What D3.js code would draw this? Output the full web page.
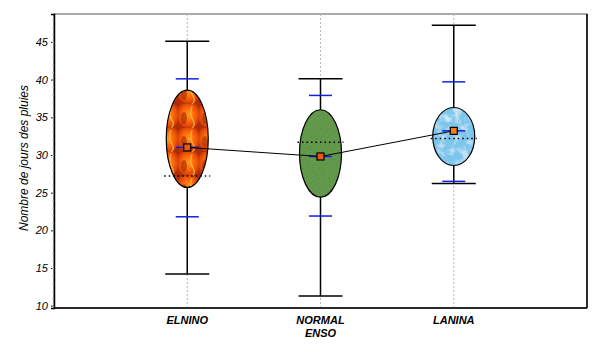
<!DOCTYPE html>
<html>
<head>
<meta charset="utf-8">
<script src="https://cdn.jsdelivr.net/npm/d3@7"></script>
<style>
  body { margin: 0; background: #fff; }
  svg text { font-family: "Liberation Sans", Arial, sans-serif; }
</style>
</head>
<body>
<svg id="chart" width="605" height="354"></svg>
<script>
// Données
const categories = ["ELNINO", "NORMAL|ENSO", "LANINA"];
const maxVals    = [45.1, 40.1, 47.2];
const minVals    = [14.2, 11.3, 26.2];
const blueHaut   = [40.1, 37.9, 39.7];
const blueBas    = [21.8, 21.9, 26.5];
const ellHaut    = [38.6, 36.0, 36.3];
const ellBas     = [25.7, 24.4, 28.6];
const moyennes   = [31.0, 29.8, 33.2];
const medianes   = [27.2, 31.7, 32.2];
const yTicks     = [10, 15, 20, 25, 30, 35, 40, 45];

const data = categories.map((c, i) => ({
  cat: c, pos: i + 1,
  max: maxVals[i], min: minVals[i],
  bh: blueHaut[i], bb: blueBas[i],
  eh: ellHaut[i], eb: ellBas[i],
  moy: moyennes[i], med: medianes[i]
}));

const svg = d3.select("#chart"),
      margin = {top: 14, right: 18, bottom: 46, left: 54},
      width = +svg.attr("width") - margin.left - margin.right,
      height = +svg.attr("height") - margin.top - margin.bottom;

// Textures
const defs = svg.append("defs");

// feu (ELNINO)
const fire = defs.append("pattern").attr("id", "fire")
  .attr("patternUnits", "userSpaceOnUse").attr("width", 21).attr("height", 24)
  .attr("x", 166).attr("y", 90);
const fg = defs.append("radialGradient").attr("id", "fireG")
  .attr("cx", "50%").attr("cy", "45%").attr("r", "60%");
fg.append("stop").attr("offset", "0%").attr("stop-color", "#ff9a18");
fg.append("stop").attr("offset", "45%").attr("stop-color", "#ff6a0c");
fg.append("stop").attr("offset", "80%").attr("stop-color", "#e04808");
fg.append("stop").attr("offset", "100%").attr("stop-color", "#b02c04");
fire.append("rect").attr("width", 21).attr("height", 24).attr("fill", "url(#fireG)");
fire.append("ellipse").attr("cx", 6).attr("cy", 14).attr("rx", 3).attr("ry", 6)
  .attr("fill", "#a02a04").attr("opacity", 0.6);
fire.append("path").attr("d", "M14,2 Q11,10 15,16 Q18,21 14,24")
  .attr("fill", "none").attr("stroke", "#ffc040").attr("stroke-width", 1.5).attr("opacity", 0.7);

// herbe (NORMAL)
const grass = defs.append("filter").attr("id", "grass").attr("x", 0).attr("y", 0).attr("width", 1).attr("height", 1);
grass.append("feTurbulence").attr("type", "fractalNoise").attr("baseFrequency", 0.9).attr("numOctaves", 2).attr("result", "n");
grass.append("feColorMatrix").attr("in", "n").attr("type", "matrix")
  .attr("values", "0 0 0 0 0.22  0 0 0 0 0.45  0 0 0 0 0.15  0 0 0 0.6 0").attr("result", "c");
grass.append("feComposite").attr("in", "c").attr("in2", "SourceGraphic").attr("operator", "atop");

// ciel (LANINA)
const sky = defs.append("filter").attr("id", "sky").attr("x", 0).attr("y", 0).attr("width", 1).attr("height", 1);
sky.append("feTurbulence").attr("type", "fractalNoise").attr("baseFrequency", 0.12).attr("numOctaves", 3).attr("result", "n");
sky.append("feColorMatrix").attr("in", "n").attr("type", "matrix")
  .attr("values", "0 0 0 0 1  0 0 0 0 1  0 0 0 0 1  0 0 0 1.6 -0.75").attr("result", "c");
sky.append("feComposite").attr("in", "c").attr("in2", "SourceGraphic").attr("operator", "atop");

const fills = ["url(#fire)", "#4f8a35", "#7cc6ec"];
const filters = [null, "url(#grass)", "url(#sky)"];

const g = svg.append("g")
  .attr("transform", `translate(${margin.left},${margin.top})`);

const x = d3.scaleLinear().domain([0, 4]).range([0, width]);
const y = d3.scaleLinear().domain([9.7, 48.7]).range([height, 0]);

// Cadre
g.append("rect").attr("width", width).attr("height", height)
  .attr("fill", "none").attr("stroke", "#555").attr("stroke-width", 1);
g.append("line").attr("x1", width).attr("x2", width).attr("y1", 0).attr("y2", height)
  .attr("stroke", "#000").attr("stroke-width", 1.5);

// Grille verticale pointillée
g.selectAll("line.grid").data(data).enter().append("line")
  .attr("class", "grid")
  .attr("x1", d => x(d.pos)).attr("x2", d => x(d.pos))
  .attr("y1", 0).attr("y2", height)
  .attr("stroke", "#bbb").attr("stroke-dasharray", "2,2");

// Axe Y
const yAxis = g.append("g")
  .call(d3.axisLeft(y).tickValues(yTicks).tickSize(3).tickPadding(3));
yAxis.select(".domain").attr("stroke", "#000").attr("stroke-width", 1.5);
yAxis.selectAll("text").style("font-size", "11px").style("font-style", "italic").attr("fill", "#000");
g.append("g")
  .call(d3.axisLeft(y).tickValues(d3.range(10, 49, 1)).tickSize(2).tickFormat(""))
  .call(a => a.select(".domain").remove())
  .selectAll("line").attr("stroke", "#bbb");

// Axe X
g.append("line").attr("x1", 0).attr("x2", width).attr("y1", height).attr("y2", height)
  .attr("stroke", "#000").attr("stroke-width", 1.5);
const xl = g.selectAll("text.cat").data(data).enter().append("text")
  .attr("class", "cat")
  .attr("x", d => x(d.pos)).attr("y", height + 16)
  .attr("text-anchor", "middle")
  .style("font-size", "11px").style("font-weight", "bold").style("font-style", "italic");
xl.each(function(d) {
  d.cat.split("|").forEach((t, i) => {
    d3.select(this).append("tspan").attr("x", x(d.pos)).attr("dy", i ? 13 : 0).text(t);
  });
});

// Titre axe Y
svg.append("text")
  .attr("transform", `translate(28,${margin.top + height / 2 - 3}) rotate(-90)`)
  .attr("text-anchor", "middle")
  .style("font-size", "12px").style("font-style", "italic")
  .text("Nombre de jours des pluies");

const capW = 22, blueW = 11.5, ellW = 21;

// Moustaches
g.selectAll("line.wh").data(data).enter().append("line")
  .attr("x1", d => x(d.pos)).attr("x2", d => x(d.pos))
  .attr("y1", d => y(d.max)).attr("y2", d => y(d.min))
  .attr("stroke", "#000").attr("stroke-width", 1.5);
["max", "min"].forEach(k => {
  g.selectAll("line.cap" + k).data(data).enter().append("line")
    .attr("x1", d => x(d.pos) - capW).attr("x2", d => x(d.pos) + capW)
    .attr("y1", d => y(d[k])).attr("y2", d => y(d[k]))
    .attr("stroke", "#000").attr("stroke-width", 1.5);
});
["bh", "bb"].forEach(k => {
  g.selectAll("line.blue" + k).data(data).enter().append("line")
    .attr("x1", d => x(d.pos) - blueW).attr("x2", d => x(d.pos) + blueW)
    .attr("y1", d => y(d[k])).attr("y2", d => y(d[k]))
    .attr("stroke", "#1020e0").attr("stroke-width", 1.5);
});

// Ellipses
g.selectAll("ellipse.ell").data(data).enter().append("ellipse")
  .attr("cx", d => x(d.pos))
  .attr("cy", d => y((d.eh + d.eb) / 2))
  .attr("rx", ellW)
  .attr("ry", d => (y(d.eb) - y(d.eh)) / 2)
  .attr("fill", (d, i) => fills[i])
  .attr("filter", (d, i) => filters[i])
  .attr("stroke", "none");
g.selectAll("ellipse.ello").data(data).enter().append("ellipse")
  .attr("cx", d => x(d.pos))
  .attr("cy", d => y((d.eh + d.eb) / 2))
  .attr("rx", ellW)
  .attr("ry", d => (y(d.eb) - y(d.eh)) / 2)
  .attr("fill", "none").attr("stroke", "#000").attr("stroke-width", 1.2);

// Ligne bleue à la moyenne
g.selectAll("line.bmoy").data(data).enter().append("line")
  .attr("x1", d => x(d.pos) - blueW).attr("x2", d => x(d.pos) + blueW)
  .attr("y1", d => y(d.moy)).attr("y2", d => y(d.moy))
  .attr("stroke", "#1020e0").attr("stroke-width", 1.5);

// Médiane pointillée
g.selectAll("line.med").data(data).enter().append("line")
  .attr("x1", d => x(d.pos) - ellW - 2).attr("x2", d => x(d.pos) + ellW + 2)
  .attr("y1", d => y(d.med)).attr("y2", d => y(d.med))
  .attr("stroke", "#000").attr("stroke-width", 1.5).attr("stroke-dasharray", "1.5,3");

// Ligne des moyennes
g.append("path").datum(data)
  .attr("fill", "none").attr("stroke", "#000").attr("stroke-width", 1)
  .attr("d", d3.line().x(d => x(d.pos)).y(d => y(d.moy)));

// Marqueurs
g.selectAll("rect.moy").data(data).enter().append("rect")
  .attr("x", d => x(d.pos) - 3.5).attr("y", d => y(d.moy) - 3.5)
  .attr("width", 7).attr("height", 7)
  .attr("fill", (d, i) => i === 2 ? "#f08018" : "#e85a10")
  .attr("stroke", "#000").attr("stroke-width", 1.2);
</script>
</body>
</html>
